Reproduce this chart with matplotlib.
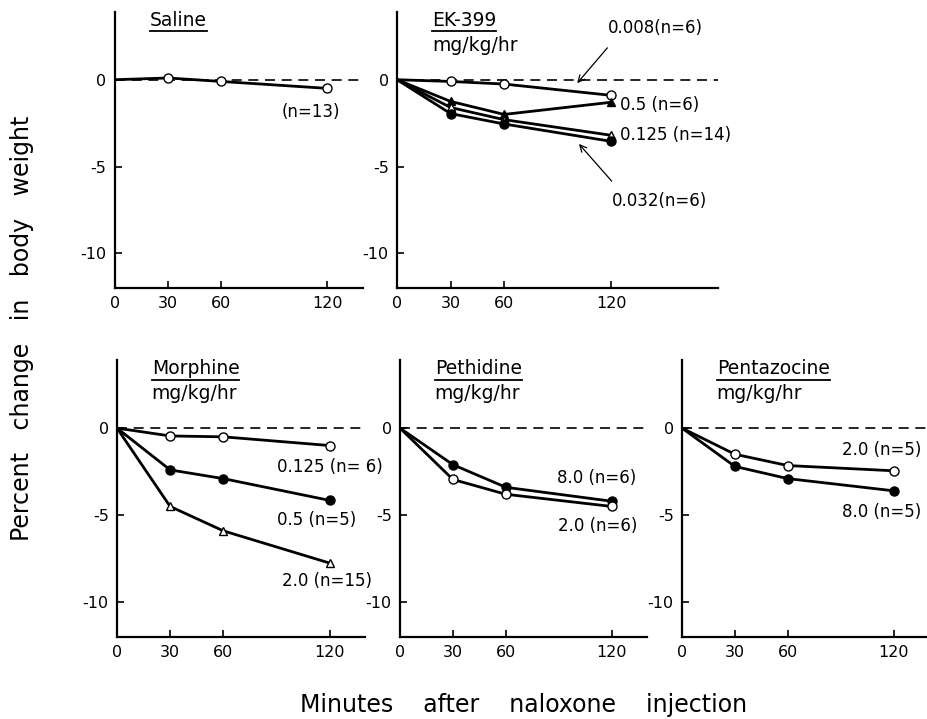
import numpy as np
import matplotlib.pyplot as plt

# minutes after naloxone injection
minutes = [0, 30, 60, 120]

# percent change in body weight
saline = [0, 0.1, -0.1, -0.5]

ek_0008 = [0, -0.1, -0.25, -0.9]
ek_05 = [0, -1.25, -2.0, -1.3]
ek_0125 = [0, -1.6, -2.3, -3.2]
ek_0032 = [0, -1.95, -2.55, -3.55]

morph_0125 = [0, -0.45, -0.5, -1.0]
morph_05 = [0, -2.4, -2.9, -4.15]
morph_20 = [0, -4.5, -5.9, -7.75]

peth_80 = [0, -2.1, -3.4, -4.2]
peth_20 = [0, -2.95, -3.8, -4.5]

penta_20 = [0, -1.5, -2.15, -2.45]
penta_80 = [0, -2.2, -2.9, -3.6]

xticks = [0, 30, 60, 120]
yticks = [0, -5, -10]

plt.rcParams['font.family'] = 'DejaVu Sans'

fig = plt.figure(figsize=(9.27, 7.19), dpi=100)


def make_axes(rect, xmax):
    ax = fig.add_axes(rect)
    ax.set_xlim(0, xmax)
    ax.set_ylim(-12, 3.9)
    for s in ['top', 'right']:
        ax.spines[s].set_visible(False)
    for s in ['left', 'bottom']:
        ax.spines[s].set_linewidth(1.6)
    ax.set_xticks(xticks)
    ax.set_yticks(yticks)
    ax.set_yticklabels(['0', '-5', '-10'])
    ax.tick_params(direction='in', length=5, width=1.2, labelsize=11.5, pad=6)
    ax.axhline(0, color='black', lw=1.2, ls=(0, (6, 4)), zorder=1)
    return ax


def series(ax, y, marker, filled, ms=6.5):
    ax.plot(minutes, y, color='black', lw=2.0, marker=marker,
            markevery=[1, 2, 3], ms=ms, mec='black', mew=1.0,
            mfc='black' if filled else 'white', zorder=3)


def heading(ax, title, units=True, dx=25):
    t = ax.annotate(title, xy=(0, 1), xycoords='axes fraction',
                    xytext=(dx, -10), textcoords='offset points',
                    fontsize=13.5, va='baseline', ha='left')
    if units:
        ax.annotate('mg/kg/hr', xy=(0, 1), xycoords='axes fraction',
                    xytext=(dx, -28), textcoords='offset points',
                    fontsize=13.5, va='baseline', ha='left')
    return t


# top row
ax1 = make_axes([0.124, 0.5994, 0.2675, 0.3839], 140)
series(ax1, saline, 'o', False)
ax1.text(94, -1.85, '(n=13)', fontsize=12, va='center')
h1 = heading(ax1, 'Saline', units=False)

ax2 = make_axes([0.4283, 0.5994, 0.3463, 0.3839], 180)
series(ax2, ek_0008, 'o', False)
series(ax2, ek_05, '^', True, ms=6)
series(ax2, ek_0125, '^', False, ms=6)
series(ax2, ek_0032, 'o', True)
ax2.text(125, -1.45, '0.5 (n=6)', fontsize=12, va='center')
ax2.text(125, -3.2, '0.125 (n=14)', fontsize=12, va='center')
ax2.annotate('0.008(n=6)', xy=(101, -0.2), xytext=(118, 3.0),
             fontsize=12, va='center', annotation_clip=False,
             arrowprops=dict(arrowstyle='->', color='black', lw=0.9,
                             shrinkA=8, shrinkB=0, relpos=(0.1, 0.0)))
ax2.annotate('0.032(n=6)', xy=(102, -3.7), xytext=(120.5, -7.0),
             fontsize=12, va='center', annotation_clip=False,
             arrowprops=dict(arrowstyle='->', color='black', lw=0.9,
                             shrinkA=8, shrinkB=0, relpos=(0.1, 1.0)))
h2 = heading(ax2, 'EK-399')

# bottom row
ax3 = make_axes([0.1262, 0.114, 0.2675, 0.385], 140)
series(ax3, morph_0125, 'o', False)
series(ax3, morph_05, 'o', True)
series(ax3, morph_20, '^', False, ms=5.5)
ax3.text(90.5, -2.25, '0.125 (n= 6)', fontsize=12, va='center')
ax3.text(90.5, -5.27, '0.5 (n=5)', fontsize=12, va='center')
ax3.text(93, -8.8, '2.0 (n=15)', fontsize=12, va='center')
h3 = heading(ax3, 'Morphine')

ax4 = make_axes([0.4315, 0.114, 0.2665, 0.385], 140)
series(ax4, peth_80, 'o', True)
series(ax4, peth_20, 'o', False)
ax4.text(88.7, -2.86, '8.0 (n=6)', fontsize=12, va='center')
ax4.text(89.5, -5.6, '2.0 (n=6)', fontsize=12, va='center')
h4 = heading(ax4, 'Pethidine')

ax5 = make_axes([0.7357, 0.114, 0.2643, 0.385], 139)
series(ax5, penta_20, 'o', False)
series(ax5, penta_80, 'o', True)
ax5.text(90.8, -1.27, '2.0 (n=5)', fontsize=12, va='center', clip_on=False)
ax5.text(91, -4.8, '8.0 (n=5)', fontsize=12, va='center', clip_on=False)
h5 = heading(ax5, 'Pentazocine')

fig.text(0.024, 0.544, 'Percent   change   in   body   weight', rotation=90,
         fontsize=17, ha='center', va='center')
fig.text(0.565, 0.003, 'Minutes    after    naloxone    injection',
         fontsize=17, ha='center', va='bottom')

# underline the panel titles
fig.canvas.draw()
renderer = fig.canvas.get_renderer()
for ax, h in [(ax1, h1), (ax2, h2), (ax3, h3), (ax4, h4), (ax5, h5)]:
    bb = h.get_window_extent(renderer)
    inv = fig.transFigure.inverted()
    (x0, y0), (x1, y1) = inv.transform([(bb.x0, bb.y0), (bb.x1, bb.y0)])
    fig.add_artist(plt.Line2D([x0, x1], [y0 - 0.002, y0 - 0.002],
                              color='black', lw=1.3))

fig.savefig('out.png', dpi=100)
